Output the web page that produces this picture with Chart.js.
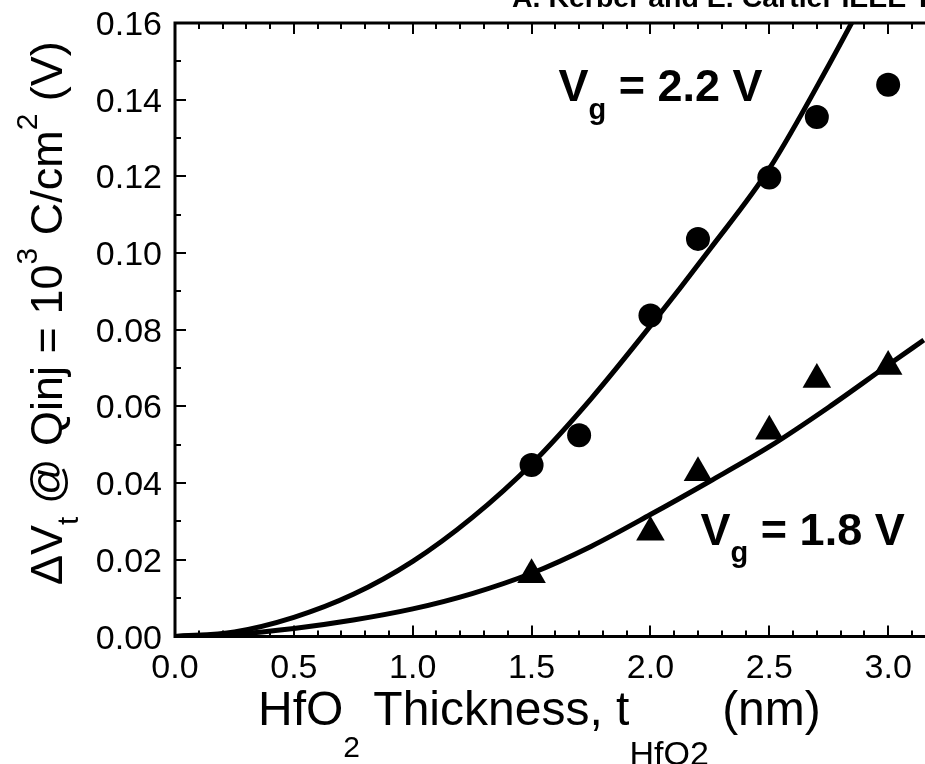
<!DOCTYPE html>
<html>
<head>
<meta charset="utf-8">
<script src="https://cdn.jsdelivr.net/npm/chart.js@4.4.0/dist/chart.umd.min.js"></script>
<style>
  html, body { margin: 0; padding: 0; background: #fff; }
  #chart { display: block; }
</style>
</head>
<body>
<canvas id="chart" width="925" height="764"></canvas>
<script>
// measured threshold shift, Vg = 2.2 V (circles)
const thickness22 = [1.5, 1.7, 2.0, 2.2, 2.5, 2.7, 3.0];
const shift22 = [0.0447, 0.0525, 0.0837, 0.1037, 0.1197, 0.1355, 0.1439];

// measured threshold shift, Vg = 1.8 V (triangles)
const thickness18 = [1.5, 2.0, 2.2, 2.5, 2.7, 3.0];
const shift18 = [0.0161, 0.0272, 0.0427, 0.0535, 0.0670, 0.0704];

// fitted curves
const fitThickness = [0, 0.25, 0.5, 0.75, 1.0, 1.25, 1.5, 1.75, 2.0, 2.25, 2.5, 2.75, 3.0, 3.15];
const fit22 = [0, 0.0012, 0.0050, 0.0110, 0.0196, 0.0310, 0.0450, 0.0620, 0.0810, 0.1010, 0.1220, 0.1490, 0.1780, 0.1960];
const fit18 = [0, 0.0006, 0.0021, 0.0043, 0.0072, 0.0112, 0.0165, 0.0235, 0.0318, 0.0405, 0.0495, 0.0598, 0.0708, 0.0773];

const xTickLabels = [0, 0.5, 1.0, 1.5, 2.0, 2.5, 3.0];
const yTickLabels = [0, 0.02, 0.04, 0.06, 0.08, 0.10, 0.12, 0.14, 0.16];

const FONT = '"Liberation Sans", Arial, Helvetica, sans-serif';

function pts(xs, ys) {
  return xs.map((v, i) => ({ x: v, y: ys[i] }));
}

// draws a run of text pieces with their own size / vertical shift
function drawRich(ctx, x, y, parts, weight) {
  ctx.textAlign = 'left';
  ctx.textBaseline = 'alphabetic';
  for (const p of parts) {
    ctx.font = `${weight} ${p.size}px ${FONT}`;
    ctx.fillText(p.text, x, y + (p.dy || 0));
    x += ctx.measureText(p.text).width;
  }
}

const frameAndText = {
  id: 'frameAndText',
  afterDraw(chart) {
    const { ctx, chartArea: a, scales: { x, y } } = chart;
    ctx.save();
    ctx.strokeStyle = '#000';
    ctx.fillStyle = '#000';

    // frame
    ctx.lineWidth = 3;
    ctx.beginPath();
    ctx.moveTo(a.left, a.top);
    ctx.lineTo(a.right, a.top);
    ctx.moveTo(a.left, a.top - 1.5);
    ctx.lineTo(a.left, a.bottom + 1.5);
    ctx.moveTo(a.left - 1.5, a.bottom);
    ctx.lineTo(a.right, a.bottom);
    ctx.stroke();

    // inward ticks, minor every 0.1 / 0.01
    ctx.lineWidth = 2;
    ctx.beginPath();
    for (let i = 0; i * 0.1 <= x.max + 1e-9; i++) {
      const px = Math.round(x.getPixelForValue(i * 0.1));
      const len = i % 5 === 0 ? 11 : 6;
      ctx.moveTo(px, a.bottom);
      ctx.lineTo(px, a.bottom - len);
      ctx.moveTo(px, a.top);
      ctx.lineTo(px, a.top + len);
    }
    for (let i = 0; i <= 16; i++) {
      const py = Math.round(y.getPixelForValue(i * 0.01));
      const len = i % 2 === 0 ? 11 : 6;
      ctx.moveTo(a.left, py);
      ctx.lineTo(a.left + len, py);
    }
    ctx.stroke();

    // tick labels
    ctx.font = `34px ${FONT}`;
    ctx.textBaseline = 'alphabetic';
    ctx.textAlign = 'center';
    for (const v of xTickLabels) {
      ctx.fillText(v.toFixed(1), x.getPixelForValue(v), a.bottom + 41);
    }
    ctx.textAlign = 'right';
    for (const v of yTickLabels) {
      ctx.fillText(v.toFixed(2), a.left - 13, y.getPixelForValue(v) + 12);
    }

    // curve labels
    drawRich(ctx, x.getPixelForValue(1.613), y.getPixelForValue(0.1397), [
      { text: 'V', size: 45 },
      { text: 'g', size: 29, dy: 18 },
      { text: ' = 2.2 V', size: 45 }
    ], 'bold');
    drawRich(ctx, x.getPixelForValue(2.211), y.getPixelForValue(0.0238), [
      { text: 'V', size: 45 },
      { text: 'g', size: 29, dy: 17 },
      { text: ' = 1.8 V', size: 45 }
    ], 'bold');

    // x axis title
    drawRich(ctx, 258, 725, [
      { text: 'HfO', size: 48 },
      { text: '2', size: 30, dy: 32 },
      { text: ' Thickness, t', size: 48 },
      { text: 'HfO2', size: 34, dy: 40 },
      { text: ' (nm)', size: 48 }
    ], 'normal');

    // y axis title
    ctx.save();
    ctx.translate(62, 585);
    ctx.rotate(-Math.PI / 2);
    drawRich(ctx, 0, 0, [
      { text: '\u0394V', size: 45 },
      { text: 't', size: 30, dy: 16 },
      { text: ' @ Qinj = 10', size: 45 },
      { text: '3', size: 30, dy: -25 },
      { text: ' C/cm', size: 45 },
      { text: '2', size: 30, dy: -25 },
      { text: ' (V)', size: 45 }
    ], 'normal');
    ctx.restore();

    // source note along the top edge
    drawRich(ctx, 512, 7, [
      { text: 'A. Kerber and E. Cartier IEEE Trans. Dev. Mater. Rel.', size: 28.5 }
    ], 'bold');

    ctx.restore();
  }
};

new Chart(document.getElementById('chart'), {
  type: 'scatter',
  data: {
    datasets: [
      {
        data: pts(thickness22, shift22),
        pointStyle: 'circle',
        pointRadius: 12,
        pointBackgroundColor: '#000',
        pointBorderWidth: 0,
        order: 0
      },
      {
        data: pts(thickness18, shift18),
        pointStyle: 'triangle',
        pointRadius: 16.5,
        pointBackgroundColor: '#000',
        pointBorderWidth: 0,
        order: 1
      },
      {
        data: pts(fitThickness, fit22),
        showLine: true,
        borderColor: '#000',
        borderWidth: 5,
        pointRadius: 0,
        cubicInterpolationMode: 'monotone',
        order: 2
      },
      {
        data: pts(fitThickness, fit18),
        showLine: true,
        borderColor: '#000',
        borderWidth: 5,
        pointRadius: 0,
        cubicInterpolationMode: 'monotone',
        order: 3
      }
    ]
  },
  options: {
    responsive: false,
    animation: false,
    layout: { autoPadding: false, padding: { top: 23, right: 0, left: 0, bottom: 0 } },
    plugins: { legend: { display: false }, tooltip: { enabled: false } },
    scales: {
      x: {
        type: 'linear',
        min: 0,
        max: 3.155,
        afterBuildTicks: s => { s.ticks = xTickLabels.map(v => ({ value: v })); },
        afterFit: s => { s.height = 127.5; },
        grid: { display: false, drawTicks: false },
        border: { display: false },
        ticks: { display: false }
      },
      y: {
        type: 'linear',
        min: 0,
        max: 0.16,
        afterBuildTicks: s => { s.ticks = yTickLabels.map(v => ({ value: v })); },
        afterFit: s => { s.width = 175; },
        grid: { display: false, drawTicks: false },
        border: { display: false },
        ticks: { display: false }
      }
    }
  },
  plugins: [frameAndText]
});
</script>
</body>
</html>
